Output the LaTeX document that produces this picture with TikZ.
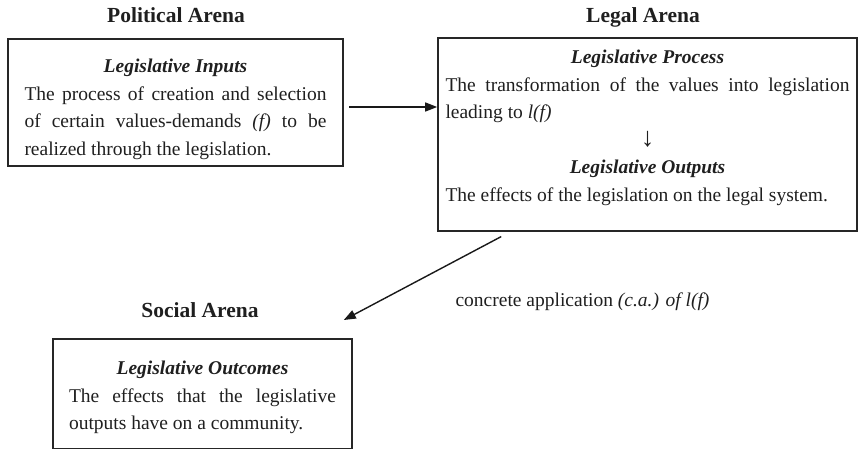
\documentclass[tikz,border=0pt]{standalone}
\usepackage{fontspec}
\setmainfont{Liberation Serif}
\usetikzlibrary{arrows.meta}

% centred bold italic title inside a box, #1 = strut height
\newcommand{\boxhead}[2][0pt]{{\centering\rule{0pt}{#1}\textbf{\textit{#2}}\par}}

\begin{document}
\begin{tikzpicture}
[x=1pt,y=-1pt,
  arena/.style={anchor=base,font=\fontsize{21.5}{26}\selectfont\bfseries,text=black!88},%
  textbox/.style={draw=black!85,line width=1.6pt,inner ysep=0pt,anchor=north,
    align=justify,text=black!88,font=\fontsize{19.5}{27.5}\selectfont},
  connect/.style={-{Triangle[length=12pt,width=9pt]},line width=1.4pt,color=black!90}]
\useasboundingbox (0,0) rectangle (860,449);
% arena titles
\node (political) at (176,23) [arena] {Political Arena};
\node (legal) at (643,23) [arena] {Legal Arena};
\node (social) at (200,317) [arena] {Social Arena};
% boxes
\node (inputs) at (175.5,38) [textbox,text width=302pt,inner xsep=16.5pt]
  {\boxhead[34pt]{Legislative Inputs}The process of creation and selection\linebreak
   of certain values-demands \textit{(f)} to be\linebreak
   realized through the legislation.\rule[-10.5pt]{0pt}{0pt}};
\node (process) at (647.5,37) [textbox,text width=404pt,inner xsep=7.5pt]
  {\boxhead[26pt]{Legislative Process}The transformation of the values into legislation
   leading to \textit{l(f)}\par
   {\centering\fontsize{27}{27.5}\selectfont ↓\par}
   \boxhead{Legislative Outputs}The effects of the legislation on the legal system.\rule[-29.5pt]{0pt}{0pt}};
\node (outcomes) at (202.5,338) [textbox,text width=267pt,inner xsep=16pt]
  {\boxhead[36pt]{Legislative Outcomes}The effects that the legislative\linebreak
   outputs have on a community.\rule[-19pt]{0pt}{0pt}};
% label of the lower arrow
\node (apply) at (452,306) [anchor=base west,text=black!88,font=\fontsize{19.5}{24}\selectfont]
  {concrete application \textit{(c.a.) of l(f)}};
% arrows
\coordinate (feed) at (349,107);
\draw[connect] (feed) -- (process.west |- feed);
\draw[connect] ([shift={(64,5)}]process.south west) -- ([shift={(-9,-18)}]outcomes.north east);
\end{tikzpicture}
\end{document}
